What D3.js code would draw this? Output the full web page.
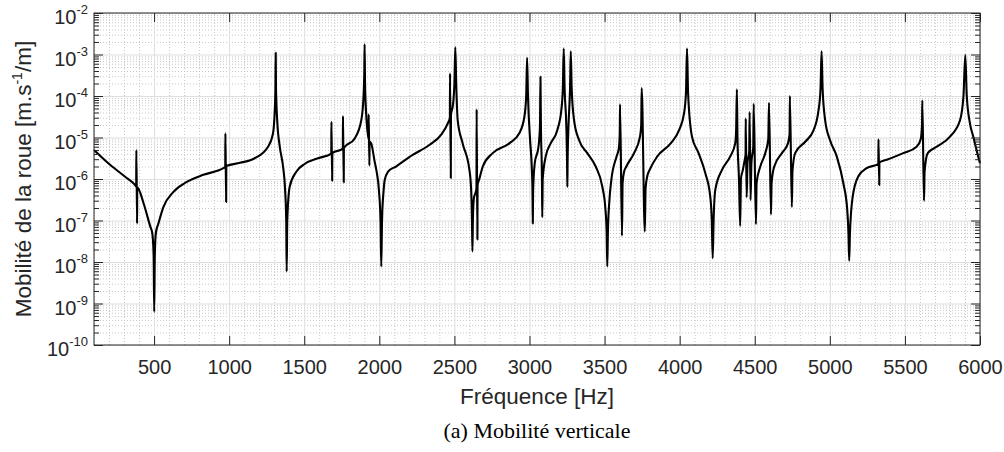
<!DOCTYPE html>
<html><head><meta charset="utf-8">
<script src="https://cdn.jsdelivr.net/npm/d3@7"></script>
<style>body{margin:0;background:#fff}svg{display:block}</style>
</head><body>
<svg id="c" width="1004" height="452"></svg>
<script>
// ---- data ----
const freqHz = [
  100, 207, 305, 370, 381, 382, 387, 388, 430, 475,
  488, 497, 501, 505, 512, 529, 562, 629, 718, 828,
  961, 974, 975, 980, 981, 1072, 1170, 1259, 1292, 1303,
  1308, 1310, 1312, 1320, 1337, 1359, 1372, 1380, 1383, 1387,
  1403, 1447, 1503, 1592, 1680, 1681, 1686, 1687, 1757, 1758,
  1763, 1764, 1836, 1880, 1895, 1900, 1902, 1905, 1912, 1925,
  1928, 1929, 1934, 1935, 1946, 1970, 1980, 1998, 2008, 2013,
  2018, 2028, 2036, 2058, 2111, 2222, 2333, 2411, 2456, 2470,
  2471, 2476, 2477, 2490, 2500, 2506, 2512, 2522, 2555, 2600,
  2612, 2617, 2620, 2623, 2630, 2640, 2647, 2648, 2653, 2654,
  2666, 2689, 2755, 2866, 2932, 2966, 2978, 2984, 2990, 3004,
  3015, 3020, 3022, 3024, 3035, 3060, 3070, 3073, 3076, 3083,
  3085, 3088, 3108, 3141, 3185, 3212, 3222, 3228, 3234, 3245,
  3250, 3252, 3254, 3260, 3270, 3275, 3281, 3297, 3330, 3385,
  3441, 3485, 3505, 3514, 3518, 3522, 3532, 3545, 3580, 3595,
  3601, 3603, 3616, 3620, 3630, 3645, 3696, 3736, 3744, 3747,
  3768, 3773, 3785, 3800, 3851, 3940, 3996, 4029, 4042, 4049,
  4056, 4082, 4126, 4171, 4204, 4214, 4220, 4226, 4237, 4282,
  4337, 4370, 4376, 4381, 4385, 4395, 4403, 4408, 4421, 4430,
  4439, 4440, 4446, 4452, 4463, 4466, 4472, 4478, 4490, 4493,
  4508, 4512, 4537, 4570, 4590, 4595, 4608, 4612, 4630, 4681,
  4721, 4732, 4734, 4747, 4751, 4769, 4836, 4892, 4925, 4938,
  4945, 4952, 4969, 5001, 5046, 5090, 5116, 5124, 5129, 5134,
  5152, 5189, 5245, 5323, 5324, 5329, 5330, 5378, 5489, 5578,
  5605, 5614, 5616, 5627, 5631, 5652, 5712, 5800, 5867, 5890,
  5902, 5912, 5933, 5955, 5988, 6000
];
const mobility = [
  5.0e-6, 2.2e-6, 1.15e-6, 7.4e-7, 6.6e-7, 5.0e-6, 8.5e-8, 6.3e-7, 2.6e-7, 7.1e-8,
  5.0e-8, 1.5e-8, 6.3e-10, 1.5e-8, 5.0e-8, 8.5e-8, 2.1e-7, 4.9e-7, 8.5e-7, 1.26e-6,
  1.82e-6, 1.95e-6, 1.26e-5, 2.8e-7, 2.05e-6, 2.45e-6, 3.16e-6, 6.0e-6, 1.26e-5, 4.0e-5,
  1.5e-4, 1.1e-3, 1.5e-4, 2.6e-5, 6.0e-6, 2.0e-6, 6.0e-7, 1.0e-7, 5.9e-9, 1.0e-7,
  6.5e-7, 1.5e-6, 2.3e-6, 3.16e-6, 4.1e-6, 2.4e-5, 9.1e-7, 4.2e-6, 5.4e-6, 3.3e-5,
  8.3e-7, 5.6e-6, 9.5e-6, 2.6e-5, 1.0e-4, 4.0e-4, 1.75e-3, 2.0e-4, 4.0e-5, 1.1e-5,
  9.5e-6, 3.6e-5, 2.1e-6, 8.0e-6, 7.2e-6, 2.5e-6, 1.66e-6, 5.0e-7, 1.0e-7, 7.8e-9,
  1.0e-7, 5.0e-7, 9.5e-7, 1.5e-6, 2.0e-6, 3.8e-6, 6.6e-6, 1.15e-5, 2.2e-5, 3.0e-5,
  3.5e-4, 1.05e-6, 3.5e-5, 6.0e-5, 2.0e-4, 1.5e-3, 2.0e-4, 2.6e-5, 7.2e-6, 1.66e-6,
  5.0e-7, 1.0e-7, 1.8e-8, 1.0e-7, 3.5e-7, 4.6e-7, 6.0e-7, 4.8e-5, 3.5e-8, 7.0e-7,
  1.0e-6, 2.0e-6, 4.2e-6, 7.2e-6, 1.26e-5, 3.16e-5, 1.0e-4, 8.3e-4, 1.0e-4, 8.7e-6,
  2.0e-6, 5.0e-7, 8.5e-8, 5.0e-7, 2.4e-6, 6.0e-6, 2.0e-5, 2.9e-4, 2.0e-5, 1.0e-6,
  1.2e-7, 1.0e-6, 3.5e-6, 7.2e-6, 1.5e-5, 4.6e-5, 1.5e-4, 1.4e-3, 1.5e-4, 2.0e-5,
  3.0e-6, 6.5e-7, 3.0e-6, 2.0e-5, 1.5e-4, 1.2e-3, 1.5e-4, 2.6e-5, 8.7e-6, 4.2e-6,
  2.0e-6, 6.5e-7, 2.0e-7, 5.0e-8, 7.8e-9, 5.0e-8, 3.0e-7, 9.5e-7, 3.5e-6, 5.5e-6,
  1.2e-5, 6.3e-5, 4.3e-8, 8.0e-7, 1.5e-6, 2.0e-6, 4.2e-6, 1.05e-5, 2.0e-5, 1.55e-4,
  5.4e-8, 6.0e-7, 1.2e-6, 1.66e-6, 3.5e-6, 7.2e-6, 1.5e-5, 3.8e-5, 1.2e-4, 1.4e-3,
  1.2e-4, 1.05e-5, 4.2e-6, 1.38e-6, 3.7e-7, 1.0e-7, 1.23e-8, 1.0e-7, 5.4e-7, 1.66e-6,
  3.5e-6, 7.2e-6, 1.5e-5, 1.45e-4, 1.0e-5, 1.0e-6, 7.4e-8, 1.0e-6, 1.66e-6, 2.5e-6,
  4.0e-6, 2.9e-5, 3.6e-7, 2.5e-6, 4.5e-6, 4.1e-5, 3.1e-7, 2.5e-6, 6.0e-6, 6.5e-5,
  8.1e-8, 8.0e-7, 2.0e-6, 4.2e-6, 9.0e-6, 6.9e-5, 1.4e-7, 8.0e-7, 2.0e-6, 4.2e-6,
  7.2e-6, 1.2e-5, 1.0e-4, 2.1e-7, 1.5e-6, 4.2e-6, 7.9e-6, 1.5e-5, 4.6e-5, 1.5e-4,
  1.2e-3, 1.5e-4, 2.6e-5, 8.7e-6, 3.5e-6, 7.9e-7, 1.8e-7, 5.0e-8, 1.07e-8, 5.0e-8,
  3.7e-7, 1.15e-6, 1.82e-6, 2.3e-6, 9.1e-6, 7.2e-7, 2.5e-6, 2.9e-6, 4.2e-6, 6.0e-6,
  9.0e-6, 2.0e-5, 7.9e-5, 3.0e-7, 1.5e-6, 4.2e-6, 6.0e-6, 1.05e-5, 2.6e-5, 1.0e-4,
  9.7e-4, 1.0e-4, 2.2e-5, 1.05e-5, 3.5e-6, 2.4e-6
];
const xTickValues = [500, 1000, 1500, 2000, 2500, 3000, 3500, 4000, 4500, 5000, 5500, 6000];
const yTickExponents = [-10, -9, -8, -7, -6, -5, -4, -3, -2];
const xDomain = [100, 6000];
const yDomain = [1e-10, 1e-2];
const xLabelText = "Fréquence [Hz]";
const yLabelParts = ["Mobilité de la roue [m.s", "-1", "/m]"];
const captionText = "(a) Mobilité verticale";

// ---- layout ----
const L = 94, R = 980, T = 13, B = 345;
const axisColor = "#262626";
const svg = d3.select("#c");
svg.append("rect").attr("width", 1004).attr("height", 452).attr("fill", "#fff");

const x = d3.scaleLinear().domain(xDomain).range([L, R]);
const y = d3.scaleLog().domain(yDomain).range([B, T]);

const yMajor = yTickExponents.map(e => Math.pow(10, e));
const yMinor = [];
for (let e = -10; e < -2; e++) for (let k = 2; k <= 9; k++) yMinor.push(k * Math.pow(10, e));
const xMinor = d3.range(100, 6001, 100).filter(v => v % 500 !== 0);

// minor grid
const gMinor = svg.append("g");
gMinor.append("g").attr("transform", `translate(${L},0)`)
  .call(d3.axisLeft(y).tickValues(yMinor).tickSize(-(R - L)).tickFormat(""))
  .call(g => g.select(".domain").remove())
  .selectAll("line").attr("stroke", "#c8c8c8").attr("stroke-dasharray", "1,2");
gMinor.append("g").attr("transform", `translate(0,${B})`)
  .call(d3.axisBottom(x).tickValues(xMinor).tickSize(-(B - T)).tickFormat(""))
  .call(g => g.select(".domain").remove())
  .selectAll("line").attr("stroke", "#c8c8c8").attr("stroke-dasharray", "1,2");

// major grid
const gMajor = svg.append("g");
gMajor.append("g").attr("transform", `translate(${L},0)`)
  .call(d3.axisLeft(y).tickValues(yMajor).tickSize(-(R - L)).tickFormat(""))
  .call(g => g.select(".domain").remove())
  .selectAll("line").attr("stroke", "#dedede");
gMajor.append("g").attr("transform", `translate(0,${B})`)
  .call(d3.axisBottom(x).tickValues(xTickValues).tickSize(-(B - T)).tickFormat(""))
  .call(g => g.select(".domain").remove())
  .selectAll("line").attr("stroke", "#dedede");

// curve
const pts = freqHz.map((f, i) => [f, mobility[i]]);
svg.append("path").datum(pts)
  .attr("fill", "none").attr("stroke", "#000").attr("stroke-width", 2.1)
  .attr("stroke-linejoin", "round")
  .attr("d", d3.line().x(d => x(d[0])).y(d => y(d[1])).curve(d3.curveMonotoneX));

// axes ticks
function styleAxis(g) {
  g.select(".domain").remove();
  g.selectAll("line").attr("stroke", axisColor);
}
const fontSans = "'Liberation Sans', Arial, Helvetica, sans-serif";
const gxB = svg.append("g").attr("transform", `translate(0,${B})`)
  .call(d3.axisBottom(x).tickValues(xTickValues).tickSizeInner(-9).tickSizeOuter(0).tickPadding(15)
    .tickFormat(d3.format("d")))
  .call(styleAxis);
gxB.selectAll("text").attr("fill", axisColor).style("font-family", fontSans).style("font-size", "20px");
svg.append("g").attr("transform", `translate(0,${T})`)
  .call(d3.axisTop(x).tickValues(xTickValues).tickSizeInner(-9).tickSizeOuter(0).tickFormat(""))
  .call(styleAxis);

svg.append("g").attr("transform", `translate(${L},0)`)
  .call(d3.axisLeft(y).tickValues(yMajor).tickSizeInner(-9).tickSizeOuter(0).tickFormat(""))
  .call(styleAxis);
svg.append("g").attr("transform", `translate(${L},0)`)
  .call(d3.axisLeft(y).tickValues(yMinor).tickSizeInner(-5).tickSizeOuter(0).tickFormat(""))
  .call(styleAxis);
svg.append("g").attr("transform", `translate(${R},0)`)
  .call(d3.axisRight(y).tickValues(yMajor).tickSizeInner(-9).tickSizeOuter(0).tickFormat(""))
  .call(styleAxis);
svg.append("g").attr("transform", `translate(${R},0)`)
  .call(d3.axisRight(y).tickValues(yMinor).tickSizeInner(-5).tickSizeOuter(0).tickFormat(""))
  .call(styleAxis);

// y tick labels 10^e
const yl = svg.append("g").style("font-family", fontSans).attr("fill", axisColor);
yTickExponents.forEach(e => {
  const t = yl.append("text").attr("x", 88).attr("y", y(Math.pow(10, e)) + 11)
    .attr("text-anchor", "end").style("font-size", "20px");
  t.append("tspan").text("10");
  t.append("tspan").attr("dy", -10).style("font-size", "13px").text(String(e));
});

// box
svg.append("rect").attr("x", L).attr("y", T).attr("width", R - L).attr("height", B - T)
  .attr("fill", "none").attr("stroke", axisColor).attr("stroke-width", 1);

// axis labels
svg.append("text").attr("x", (L + R) / 2).attr("y", 404).attr("text-anchor", "middle")
  .style("font-family", fontSans).style("font-size", "22.5px").attr("fill", axisColor)
  .text(xLabelText);
const ylab = svg.append("text").attr("transform", `translate(31,${(T + B) / 2}) rotate(-90)`)
  .attr("text-anchor", "middle").style("font-family", fontSans).style("font-size", "22.5px")
  .attr("fill", axisColor);
ylab.append("tspan").text(yLabelParts[0]);
ylab.append("tspan").attr("dy", -9).style("font-size", "14px").text(yLabelParts[1]);
ylab.append("tspan").attr("dy", 9).text(yLabelParts[2]);

// caption
svg.append("text").attr("x", (L + R) / 2).attr("y", 438).attr("text-anchor", "middle")
  .style("font-family", "'Liberation Serif', 'Times New Roman', serif").style("font-size", "22px")
  .attr("fill", "#000").text(captionText);
</script>
</body></html>
